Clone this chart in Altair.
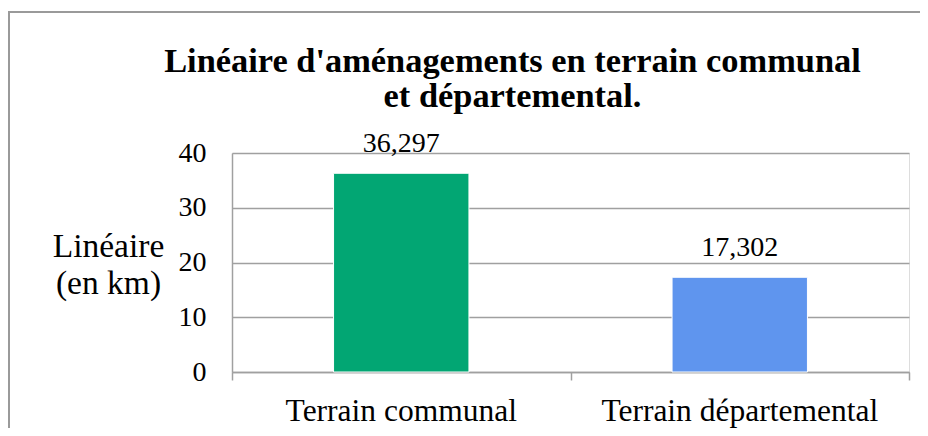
import altair as alt
import pandas as pd

categories = ["Terrain communal", "Terrain départemental"]
values = [36.297, 17.302]
value_labels = ["36,297", "17,302"]
bar_colors = ["#02A673", "#5F95EE"]
y_ticks = [0, 10, 20, 30, 40]
x_tick_positions = [0, 1, 2]

SERIF = "Liberation Serif, Times New Roman, serif"
GRID = "#A0A0A0"

df = pd.DataFrame({"cat": categories, "val": values, "label": value_labels, "color": bar_colors})
tick_df = pd.DataFrame({"t": x_tick_positions})
frame_df = pd.DataFrame({"f": [0]})

x_enc = alt.X(
    "cat:N",
    sort=categories,
    title=None,
    scale=alt.Scale(paddingInner=0.6, paddingOuter=0.3),
    axis=alt.Axis(labelAngle=0, ticks=False, domain=False, grid=False,
                  labelFont=SERIF, labelFontSize=31.5, labelColor="#000000",
                  labelBaseline="alphabetic", labelPadding=48, labelLimit=600),
)
y_enc = alt.Y(
    "val:Q",
    scale=alt.Scale(domain=[0, 40], nice=False),
    axis=alt.Axis(values=y_ticks, ticks=False, domain=True, domainColor=GRID, domainWidth=1.5,
                  grid=True, gridColor=GRID, gridWidth=1.5,
                  labelFont=SERIF, labelFontSize=28, labelColor="#000000", labelPadding=26,
                  title=["Linéaire", "(en km)"], titleFont=SERIF, titleFontSize=33.5,
                  titleFontWeight="normal", titleColor="#000000", titleAngle=0,
                  titleAlign="center", titleBaseline="alphabetic", titleX=-124, titleY=103,
                  titleLineHeight=37),
)

bars = alt.Chart(df).mark_bar(stroke="#FFFFFF", strokeWidth=1).encode(
    x=x_enc, y=y_enc, color=alt.Color("color:N", scale=None)
)
text = alt.Chart(df).mark_text(font=SERIF, fontSize=28, baseline="alphabetic", dy=-21, color="#000000").encode(
    x=alt.X("cat:N", sort=categories), y="val:Q", text="label:N"
)

ticks = alt.Chart(tick_df).mark_point(opacity=0).encode(
    x=alt.X("t:Q", scale=alt.Scale(domain=[0, 2], nice=False, zero=False),
            axis=alt.Axis(orient="bottom", values=x_tick_positions, labels=False, ticks=True,
                          tickSize=8, tickColor=GRID, tickWidth=1.5, domain=True,
                          domainColor=GRID, domainWidth=1.5, grid=False, title=None))
)

frame = alt.Chart(frame_df).mark_rect(fill=None, stroke="#9A9A9A", strokeWidth=2).encode(
    x=alt.value(-223), x2=alt.value(720), y=alt.value(-141), y2=alt.value(320)
)

chart = alt.layer(frame, alt.layer(bars, text), ticks).resolve_scale(x="independent").properties(
    width=677,
    height=219,
    autosize=alt.AutoSizeParams(type="none"),
    padding={"left": 224, "top": 145, "right": 11, "bottom": 56},
    title=alt.TitleParams(
        ["Linéaire d'aménagements en terrain communal", "et départemental."],
        font=SERIF, fontSize=34.4, fontWeight="bold", color="#000000",
        anchor="middle", frame="group", dx=-58, offset=-103, lineHeight=35,
    ),
).configure_view(stroke=None).configure(background="#FFFFFF")

chart.save("out.html", embed_options={"renderer": "svg", "actions": False})
